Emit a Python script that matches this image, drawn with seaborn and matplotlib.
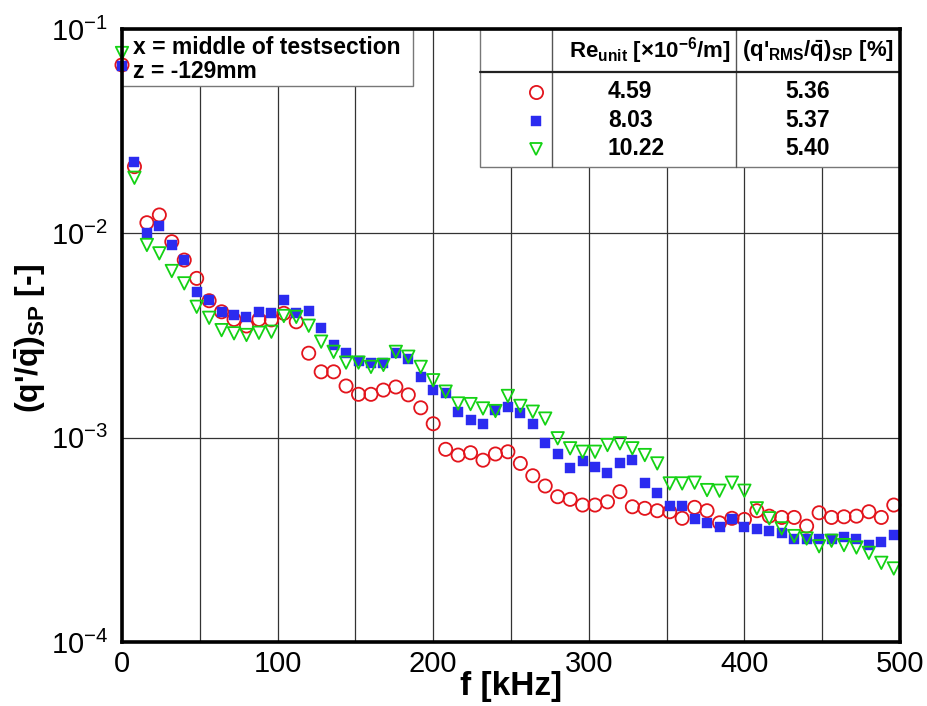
import numpy as np
import pandas as pd
import matplotlib
matplotlib.use('Agg')
import matplotlib.pyplot as plt
import seaborn as sns
from matplotlib.patches import Rectangle
from matplotlib.lines import Line2D
from matplotlib.ticker import MultipleLocator, NullLocator

# ---------------- data ----------------
freq_khz = [0, 8, 16, 24, 32, 40, 48, 56, 64, 72, 80, 88, 96, 104, 112, 120,
            128, 136, 144, 152, 160, 168, 176, 184, 192, 200, 208, 216, 224,
            232, 240, 248, 256, 264, 272, 280, 288, 296, 304, 312, 320, 328,
            336, 344, 352, 360, 368, 376, 384, 392, 400, 408, 416, 424, 432,
            440, 448, 456, 464, 472, 480, 488, 496]

ratio_re459 = [0.0667, 0.0212, 0.01127, 0.0123, 0.0091, 0.0074, 0.00602, 0.00468,
               0.00413, 0.00379, 0.00352, 0.00379, 0.00377, 0.00406, 0.00369, 0.00259,
               0.0021, 0.0021, 0.00179, 0.00163, 0.00163, 0.00171, 0.00177, 0.00162,
               0.0014, 0.00117, 0.000877, 0.000822, 0.000844, 0.000776, 0.000832, 0.000853,
               0.000748, 0.000651, 0.00058, 0.000514, 0.000499, 0.000468, 0.000468, 0.000485,
               0.000544, 0.000459, 0.000451, 0.000439, 0.000434, 0.000403, 0.000456, 0.000439,
               0.000383, 0.000403, 0.000398, 0.000439, 0.000413, 0.000407, 0.000407, 0.000369,
               0.000429, 0.000407, 0.00041, 0.000413, 0.000434, 0.000407, 0.000468]

ratio_re803 = [0.066, 0.0224, 0.0100, 0.01086, 0.00877, 0.0074, 0.00518, 0.00472,
               0.00413, 0.00398, 0.00388, 0.00413, 0.00408, 0.00472, 0.00406, 0.00418,
               0.00345, 0.00284, 0.0026, 0.00237, 0.00231, 0.00231, 0.00259, 0.00244,
               0.00199, 0.00171, 0.00165, 0.00134, 0.00122, 0.00117, 0.00136, 0.00141,
               0.00132, 0.00117, 0.000944, 0.000832, 0.000708, 0.000771, 0.000721, 0.000673,
               0.000748, 0.000776, 0.000602, 0.000537, 0.000462, 0.000462, 0.000398, 0.000381,
               0.000364, 0.000398, 0.000364, 0.000356, 0.00035, 0.000342, 0.000319, 0.000318,
               0.000321, 0.000321, 0.000327, 0.000318, 0.000298, 0.00031, 0.000334]

ratio_re1022 = [0.0763, 0.0187, 0.00877, 0.00798, 0.00654, 0.00569, 0.00437, 0.00386,
                0.00336, 0.00324, 0.00318, 0.00326, 0.0033, 0.00394, 0.0039, 0.00353,
                0.00295, 0.00263, 0.00233, 0.00233, 0.00222, 0.00227, 0.00263, 0.00249,
                0.00222, 0.00191, 0.00168, 0.00147, 0.00146, 0.00139, 0.00135, 0.0016,
                0.00143, 0.00134, 0.00124, 0.000993, 0.000887, 0.000853, 0.000853, 0.00092,
                0.000938, 0.000887, 0.000822, 0.000748, 0.000597, 0.000597, 0.000602, 0.000554,
                0.00055, 0.000602, 0.00055, 0.000451, 0.000403, 0.00036, 0.00033, 0.000321,
                0.000294, 0.000313, 0.000298, 0.00029, 0.000273, 0.000244, 0.000229]

re_unit_labels = ['4.59', '8.03', '10.22']
rms_labels = ['5.36', '5.37', '5.40']
x_ticks = [0, 100, 200, 300, 400, 500]
x_tick_labels = ['0', '100', '200', '300', '400', '500']
y_ticks = [1e-4, 1e-3, 1e-2, 1e-1]
y_tick_labels = [r'$\mathregular{10^{-4}}$', r'$\mathregular{10^{-3}}$',
                 r'$\mathregular{10^{-2}}$', r'$\mathregular{10^{-1}}$']

# ---------------- style ----------------
sns.set_style('white')
plt.rcParams['font.family'] = ['Liberation Sans', 'DejaVu Sans']
plt.rcParams['mathtext.fontset'] = 'custom'
plt.rcParams['mathtext.rm'] = 'Liberation Sans'
plt.rcParams['mathtext.bf'] = 'Liberation Sans:bold'
plt.rcParams['mathtext.it'] = 'Liberation Sans:italic'
for key in ('text.color', 'axes.labelcolor', 'xtick.color', 'ytick.color'):
    plt.rcParams[key] = 'black'

RED = '#e3141c'
BLUE = '#2b2bf0'
GREEN = '#14d214'

W, H = 928, 706
fig = plt.figure(figsize=(W / 100, H / 100), dpi=100)
fig.patch.set_facecolor('white')
AX_L, AX_R, AX_T, AX_B = 122, 900, 29, 642
ax = fig.add_axes([AX_L / W, 1 - AX_B / H, (AX_R - AX_L) / W, (AX_B - AX_T) / H])


def axc(px, py):
    return (px - AX_L) / (AX_R - AX_L), (AX_B - py) / (AX_B - AX_T)


df = pd.DataFrame({'f': freq_khz, 'r459': ratio_re459,
                   'r803': ratio_re803, 'r1022': ratio_re1022})

sns.scatterplot(data=df, x='f', y='r459', ax=ax, marker='o', s=90,
                facecolor='none', edgecolor=RED, linewidth=1.3,
                clip_on=False, zorder=5)
sns.scatterplot(data=df, x='f', y='r803', ax=ax, marker='s', s=44,
                facecolor=BLUE, edgecolor=BLUE, linewidth=0.3,
                clip_on=False, zorder=6)
sns.scatterplot(data=df, x='f', y='r1022', ax=ax, marker='v', s=80,
                facecolor='none', edgecolor=GREEN, linewidth=1.3,
                clip_on=False, zorder=7)

ax.set_yscale('log')
ax.set_xlim(0, 500)
ax.set_ylim(1e-4, 1e-1)
ax.set_xticks(x_ticks, labels=x_tick_labels)
ax.xaxis.set_minor_locator(MultipleLocator(50))
ax.set_yticks(y_ticks, labels=y_tick_labels)
ax.yaxis.set_minor_locator(NullLocator())
for lab in ax.get_xticklabels() + ax.get_yticklabels():
    lab.set_fontsize(21)
    lab.set_color('black')
ax.tick_params(axis='both', which='both', length=0)
ax.tick_params(axis='y', pad=10)
ax.tick_params(axis='x', pad=6)

ax.set_axisbelow(True)
ax.grid(True, which='both', axis='x', color='#333333', lw=0.9)
ax.grid(True, which='major', axis='y', color='#333333', lw=0.9)
for sp in ax.spines.values():
    sp.set_visible(True)
    sp.set_color('black')
    sp.set_linewidth(2.6)
    sp.set_zorder(10)

ax.set_xlabel('f [kHz]', fontsize=24, fontweight='bold')
ax.xaxis.set_label_coords(0.5, axc(0, 671)[1])
ax.set_ylabel(r"(q'/$\mathbf{\bar{q}}$)$_\mathbf{SP}$ [-]", fontsize=23,
              fontweight='bold')
ax.yaxis.set_label_coords(axc(48, 0)[0], axc(0, 338)[1])

# ---------------- annotation box ----------------
x0, y1 = axc(122, 29)
x1, y0 = axc(413, 86)
ax.add_patch(Rectangle((x0, y0), x1 - x0, y1 - y0, transform=ax.transAxes,
                       facecolor='white', edgecolor='#777777', lw=1.0, zorder=3))
ax.text(*axc(133, 47), 'x = middle of testsection', transform=ax.transAxes,
        fontsize=16.5, fontweight='bold', ha='left', va='center', zorder=4)
ax.text(*axc(133, 71), 'z = -129mm', transform=ax.transAxes,
        fontsize=16.5, fontweight='bold', ha='left', va='center', zorder=4)

# ---------------- legend table ----------------
tx0, ty1 = axc(480, 29)
tx1, ty0 = axc(900, 167)
ax.add_patch(Rectangle((tx0, ty0), tx1 - tx0, ty1 - ty0, transform=ax.transAxes,
                       facecolor='white', edgecolor='#777777', lw=1.0, zorder=3))
for vx in (552, 736.5):
    xx = axc(vx, 0)[0]
    ax.add_line(Line2D([xx, xx], [ty0, ty1], transform=ax.transAxes,
                       color='#555555', lw=1.0, zorder=4))
hy = axc(0, 72)[1]
ax.add_line(Line2D([tx0, tx1], [hy, hy], transform=ax.transAxes,
                   color='#222222', lw=1.6, zorder=4))

ax.text(*axc(650, 51), r"Re$_\mathbf{unit}$ [$\mathbf{\times}$10$^\mathbf{-6}$/m]",
        transform=ax.transAxes, fontsize=16, fontweight='bold',
        ha='center', va='center', zorder=4)
ax.text(*axc(818, 51), r"(q'$_\mathbf{RMS}$/$\mathbf{\bar{q}}$)$_\mathbf{SP}$ [%]",
        transform=ax.transAxes, fontsize=16, fontweight='bold',
        ha='center', va='center', zorder=4)

row_y = [92, 120.5, 148.5]
leg_styles = [dict(marker='o', ms=9.5, mfc='none', mec=RED, mew=1.3),
              dict(marker='s', ms=6.5, mfc=BLUE, mec=BLUE, mew=0.3),
              dict(marker='v', ms=9.0, mfc='none', mec=GREEN, mew=1.3)]
for ry, re_lab, rms_lab, st in zip(row_y, re_unit_labels, rms_labels, leg_styles):
    ax.add_line(Line2D([axc(536.5, 0)[0]], [axc(0, ry)[1]], transform=ax.transAxes,
                       ls='none', zorder=5, **st))
    ax.text(axc(608, 0)[0], axc(0, ry)[1], re_lab, transform=ax.transAxes,
            fontsize=16.5, fontweight='bold', ha='left', va='center', zorder=4)
    ax.text(axc(785, 0)[0], axc(0, ry)[1], rms_lab, transform=ax.transAxes,
            fontsize=16.5, fontweight='bold', ha='left', va='center', zorder=4)

fig.savefig('out.png', dpi=100, facecolor='white')
